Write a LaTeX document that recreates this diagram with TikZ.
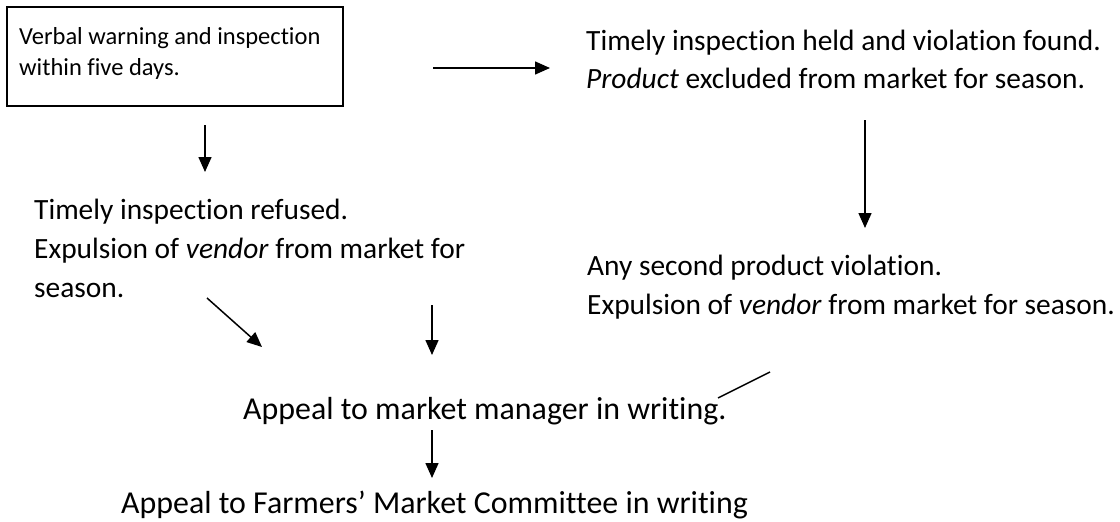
\documentclass[tikz,border=0pt]{standalone}
\usepackage{fontspec}
\setmainfont{Carlito}[Ligatures={NoCommon},RawFeature={-liga;-clig;-calt;-dlig}]
\usetikzlibrary{arrows.meta}
\begin{document}
\begin{tikzpicture}[x=1pt,y=-1pt,
  txt/.style={anchor=base west,inner sep=0pt,font=\fontsize{29.4}{38}\selectfont},
  apptxt/.style={anchor=base west,inner sep=0pt,font=\fontsize{31.9}{38}\selectfont},
  boxtxt/.style={anchor=base west,inner sep=0pt,font=\fontsize{24.5}{31}\selectfont},
  arr/.style={line width=1.5pt,-{Triangle[width=13pt,length=15pt]}},
  ln/.style={line width=1.5pt}]
\useasboundingbox (0,0) rectangle (1120,522);
% box
\draw[line width=1.2pt] (7,7) rectangle (343,106);
\node[boxtxt] (b1) at (19,44) {Verbal warning and inspection};
\node[boxtxt] (b2) at (19,75) {within five days.};
% right top
\node[txt] (r1) at (586,50) {Timely inspection held and violation found.};
\node[txt] (r2) at (586,88) {\textit{Product} excluded from market for season.};
% left
\node[txt] (l1) at (34,219) {Timely inspection refused.};
\node[txt] (l2) at (34,258) {Expulsion of \textit{vendor} from market for};
\node[txt] (l3) at (34,297) {season.};
% right middle
\node[txt] (m1) at (587,275) {Any second product violation.};
\node[txt] (m2) at (587,314) {Expulsion of \textit{vendor} from market for season.};
% appeals
\node[apptxt] (a1) at (243,419) {Appeal to market manager in writing.};
\node[apptxt] (a2) at (121,513) {Appeal to Farmers’ Market Committee in writing};
% connector ends
\coordinate (h1) at (433,68); \coordinate (h2) at (550,68);
\coordinate (d1) at (205,125); \coordinate (d2) at (205,172);
\coordinate (e1) at (865,120); \coordinate (e2) at (865,228);
\coordinate (g1) at (207,298); \coordinate (g2) at (262,347);
\coordinate (k1) at (432,305); \coordinate (k2) at (432,355);
\coordinate (s1) at (770,372); \coordinate (s2) at (718,398);
\coordinate (n1) at (432,430); \coordinate (n2) at (432,478);
\draw[arr] (h1) -- (h2);
\draw[arr] (d1) -- (d2);
\draw[arr] (e1) -- (e2);
\draw[arr] (g1) -- (g2);
\draw[arr] (k1) -- (k2);
\draw[ln] (s1) -- (s2);
\draw[arr] (n1) -- (n2);
\end{tikzpicture}
\end{document}
